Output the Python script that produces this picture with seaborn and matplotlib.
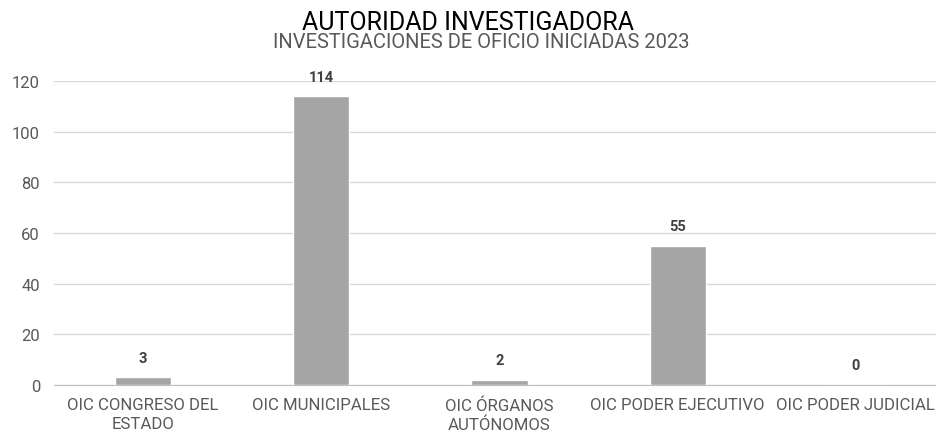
import matplotlib
matplotlib.use("Agg")
import matplotlib.pyplot as plt
import seaborn as sns
import pandas as pd

categorias = ["OIC CONGRESO DEL\nESTADO", "OIC MUNICIPALES", "OIC ÓRGANOS\nAUTÓNOMOS",
              "OIC PODER EJECUTIVO", "OIC PODER JUDICIAL"]
investigaciones = [3, 114, 2, 55, 0]

df = pd.DataFrame({"categoria": categorias, "valor": investigaciones})

sns.set_style("white")
plt.rcParams['font.family'] = ['Roboto', 'DejaVu Sans']

fig = plt.figure(figsize=(9.36, 4.31), dpi=100)
ax = fig.add_axes([54 / 936, 1 - 386 / 431, 1 - 54 / 936, (386 - 82) / 431])

sns.barplot(data=df, x="categoria", y="valor", color="#a5a5a5", width=0.315,
            saturation=1, ax=ax, zorder=3)

ax.set_ylim(0, 120)
ax.set_xlim(-0.5, 4.45)
ax.set_yticks(range(0, 121, 20))
ax.yaxis.grid(True, color="#d9d9d9", linewidth=1, zorder=0)
ax.set_axisbelow(True)
for s in ["top", "right", "left"]:
    ax.spines[s].set_visible(False)
ax.spines["bottom"].set_color("#bfbfbf")
ax.tick_params(axis="y", length=0, labelsize=12, colors="#595959", pad=10)
ax.tick_params(axis="x", length=0, labelsize=12.1, colors="#595959", pad=9)
for lbl in ax.get_xticklabels():
    lbl.set_linespacing(1.3)
ax.set_xlabel("")
ax.set_ylabel("")

for i, v in enumerate(investigaciones):
    ax.annotate(str(v), (i, v), xytext=(0, 9), textcoords="offset points",
                ha="center", va="bottom", fontsize=10.5, fontweight="bold", color="#404040")

fig.text(0.5, 0.93, "AUTORIDAD INVESTIGADORA", ha="center", va="baseline",
         fontsize=18, color="#000000")
fig.text(0.514, 0.888, "INVESTIGACIONES DE OFICIO INICIADAS 2023", ha="center", va="baseline",
         fontsize=14.5, color="#595959")

fig.savefig("out.png", dpi=100)
